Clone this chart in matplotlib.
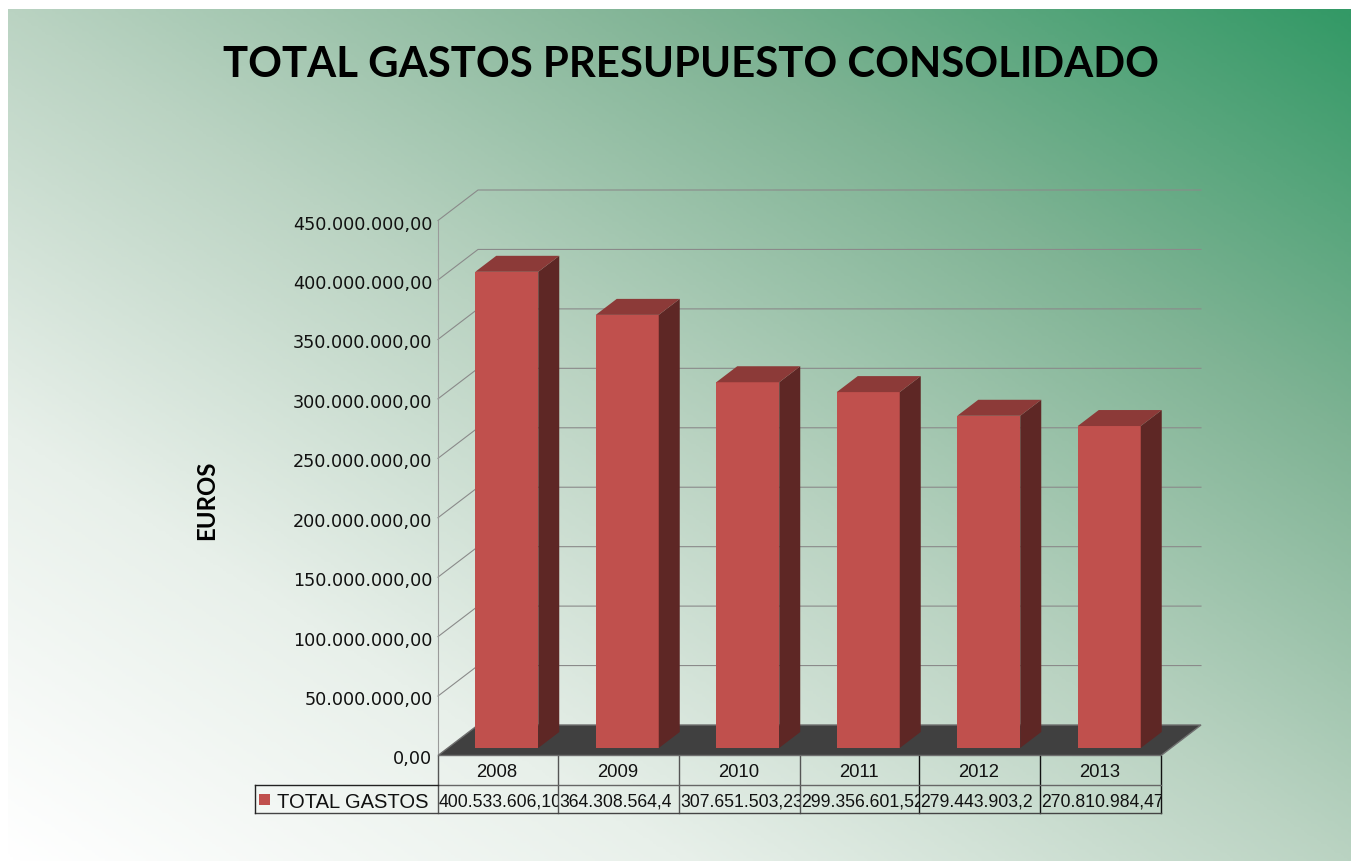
import numpy as np
import matplotlib
matplotlib.use("Agg")
import matplotlib.pyplot as plt
from matplotlib.colors import LinearSegmentedColormap
from matplotlib.patches import Polygon, Rectangle
from matplotlib.transforms import ScaledTranslation

years = ["2008", "2009", "2010", "2011", "2012", "2013"]
gastos = [400533606.10, 364308564.40, 307651503.23, 299356601.52, 279443903.20, 270810984.47]
gastos_txt = ["400.533.606,10", "364.308.564,4", "307.651.503,23", "299.356.601,52", "279.443.903,2", "270.810.984,47"]
yticks = [0, 50e6, 100e6, 150e6, 200e6, 250e6, 300e6, 350e6, 400e6, 450e6]
ytick_labels = ["0,00", "50.000.000,00", "100.000.000,00", "150.000.000,00", "200.000.000,00",
                "250.000.000,00", "300.000.000,00", "350.000.000,00", "400.000.000,00", "450.000.000,00"]

W, H = 1351, 862
fig = plt.figure(figsize=(W/100, H/100), dpi=100)

# background gradient
bg = fig.add_axes([8/W, 0, 1-8/W, 1-10/H], zorder=0)
cmap = LinearSegmentedColormap.from_list("bg", [(0, "#ffffff"), (0.25, "#e8f0ea"), (0.5, "#bad3c2"), (0.75, "#7fb394"), (1, "#339966")])
gx, gy = np.meshgrid(np.linspace(0, 1, 400), np.linspace(0, 1, 300))
bg.imshow((gx+gy)/2, origin="lower", aspect="auto", cmap=cmap, vmin=0, vmax=1)
bg.axis("off")

# front plane of the 3d box
left, right, bottom, top = 438, 1161, 756.5, 221.5
ax = fig.add_axes([left/W, 1-bottom/H, (right-left)/W, (bottom-top)/H], zorder=1)
ax.patch.set_alpha(0)
ax.set_xlim(0, 6)
ax.set_ylim(0, 450e6)
for s in ax.spines.values():
    s.set_visible(False)
ax.set_xticks([])
ax.set_yticks(yticks)
ax.set_yticklabels(ytick_labels, fontsize=12.7, color="#111111", family="DejaVu Sans")
ax.tick_params(axis="y", length=0, pad=4)
down1px = ScaledTranslation(0, -1/100, fig.dpi_scale_trans)
for lab in ax.get_yticklabels():
    lab.set_transform(lab.get_transform() + down1px)

# pixels to data units
ux = 6/(right-left)
uy = 450e6/(bottom-top)
depth_x, depth_y = 40*ux, 30.5*uy

# floor
ax.add_patch(Polygon([(0, 0), (6, 0), (6+depth_x, depth_y), (depth_x, depth_y)], closed=True,
                     fc="#404040", ec="#6e6e6e", lw=1, zorder=2, clip_on=False))

# grid on the wall
for t in yticks[1:]:
    ax.plot([0, depth_x, 6+depth_x], [t, t+depth_y, t+depth_y], color="#8a8a8a", lw=0.8, zorder=1, clip_on=False)
ax.plot([0, 0], [0, 450e6], color="#9a9a9a", lw=0.8, zorder=1, clip_on=False)

# bars
bar_w = 63*ux
off_x, off_y = 8.5*ux, 7.5*uy
bar_dx, bar_dy = 21*ux, 16*uy
xs = np.arange(6) + 0.5 + off_x
ax.bar(xs, gastos, bar_w, bottom=off_y, color="#c0504d", zorder=3, clip_on=False)
for x, v in zip(xs, gastos):
    x0, x1 = x-bar_w/2, x+bar_w/2
    y0, y1 = off_y, off_y+v
    ax.add_patch(Polygon([(x1, y0), (x1+bar_dx, y0+bar_dy), (x1+bar_dx, y1+bar_dy), (x1, y1)], closed=True,
                         fc="#5e2725", ec="none", zorder=3, clip_on=False))
    ax.add_patch(Polygon([(x0, y1), (x1, y1), (x1+bar_dx, y1+bar_dy), (x0+bar_dx, y1+bar_dy)], closed=True,
                         fc="#8c3a38", ec="none", zorder=3, clip_on=False))

# data table under the axes
row1 = 29*uy
row2 = 57*uy
cols = [0, 120*ux, 241*ux, 362*ux, 481*ux, 602*ux, 6]
legend_x = -183*ux
line = dict(lw=1, zorder=4, clip_on=False)
for i, c in enumerate(cols):
    ax.plot([c, c], [0, -row2], color="#555555" if i < 4 else "#111111", **line)
ax.plot([0, 6], [-row1, -row1], color="#666666", **line)
ax.plot([legend_x, 0], [-row1, -row1], color="#222222", **line)
ax.plot([legend_x, 6], [-row2, -row2], color="#444444", **line)
ax.plot([legend_x, legend_x], [-row1, -row2], color="#222222", **line)

for i in range(6):
    cx = (cols[i]+cols[i+1])/2
    ax.text(cx-1*ux, -row1/2-2*uy, years[i], ha="center", va="center", fontsize=13.3, family="Liberation Sans", color="#111111", clip_on=False, zorder=5)
    clip = Rectangle((cols[i], -row2), cols[i+1]-cols[i], row2-row1, transform=ax.transData)
    txt = ax.text(cols[i]+1*ux, -(row1+row2)/2-3*uy, gastos_txt[i], ha="left", va="center", fontsize=12.7,
                  family="Liberation Sans", color="#111111", zorder=5, clip_on=True)
    txt.set_clip_path(clip)

ax.add_patch(Rectangle((-179*ux, -(row1+row2)/2-6.5*uy), 11*ux, 11*uy, fc="#c0504d", ec="none", zorder=5, clip_on=False))
ax.text(-161*ux, -(row1+row2)/2-3*uy, "TOTAL GASTOS", ha="left", va="center", fontsize=14.5, family="Liberation Sans", color="#111111", clip_on=False, zorder=5)

# titles
fig.text(691/W, 1-65/H, "TOTAL GASTOS PRESUPUESTO CONSOLIDADO", ha="center", va="center", fontsize=30.2, fontweight="bold", family="Lato", color="black", zorder=6)
fig.text(207/W, 1-500/H, "EUROS", ha="center", va="center", rotation=90, fontsize=17.3, fontweight="bold", family="Lato", color="black", zorder=6)

fig.savefig("out.png", dpi=100)
